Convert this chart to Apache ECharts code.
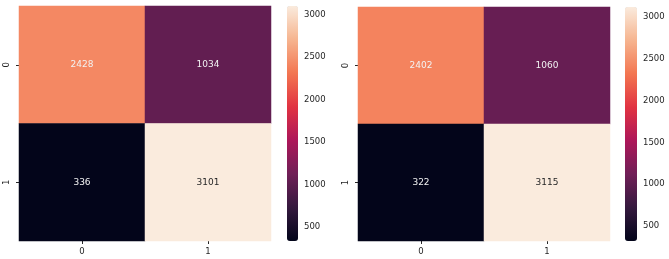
<!DOCTYPE html>
<html>
<head>
<meta charset="utf-8">
<script src="https://cdn.jsdelivr.net/npm/echarts@6/dist/echarts.min.js"></script>
<style>
    html, body { margin: 0; padding: 0; background: #fff; }
    #chart { width: 669px; height: 259px; }
</style>
</head>
<body>
<div id="chart"></div>
<script>
const xLabels = ['0', '1'];
const yLabels = ['0', '1'];

// confusion matrices, rows = y label, cols = x label
const leftMatrix = [
    [2428, 1034],
    [336, 3101],
];
const rightMatrix = [
    [2402, 1060],
    [322, 3115],
];

const colorbarTicks = [500, 1000, 1500, 2000, 2500, 3000];

// seaborn "rocket"
const rocket = ['#03051a', '#35193e', '#701f57', '#ad1759', '#e13342', '#f37651', '#f6b48f', '#faebdd'];

const FONT = 'DejaVu Sans';
const TEXT = '#262626';

function toCells(matrix) {
    const flat = matrix.flat();
    const min = Math.min(...flat);
    const max = Math.max(...flat);
    const cells = [];
    matrix.forEach((row, yi) => {
        row.forEach((v, xi) => {
            const frac = (v - min) / (max - min);
            cells.push({
                value: [xi, yi, v],
                label: {color: frac > 0.9 ? TEXT : '#f2f2f2'}
            });
        });
    });
    return {cells, min, max};
}

const left = toCells(leftMatrix);
const right = toCells(rightMatrix);

const panels = [
    {data: left, grid: {left: 19, top: 6, width: 252, height: 235}, bar: {left: 287, top: 6, width: 11, height: 235}},
    {data: right, grid: {left: 358, top: 7, width: 252, height: 234}, bar: {left: 625, top: 7, width: 12, height: 234}},
];

const grids = [];
const xAxes = [];
const yAxes = [];
const series = [];
const visualMaps = [];

panels.forEach((p) => {
    grids.push(p.grid);
    xAxes.push({
        type: 'category',
        gridIndex: grids.length - 1,
        data: xLabels,
        axisLine: {show: false},
        axisTick: {show: true, alignWithLabel: true, length: 3, lineStyle: {color: TEXT}},
        axisLabel: {fontFamily: FONT, fontSize: 8.5, color: TEXT, margin: 6},
        splitLine: {show: false}
    });
    yAxes.push({
        type: 'category',
        gridIndex: grids.length - 1,
        data: yLabels,
        inverse: true,
        axisLine: {show: false},
        axisTick: {show: true, alignWithLabel: true, length: 3, lineStyle: {color: TEXT}},
        axisLabel: {fontFamily: FONT, fontSize: 8.5, color: TEXT, rotate: 90, margin: 8},
        splitLine: {show: false}
    });
    const heatIndex = series.length;
    series.push({
        type: 'heatmap',
        xAxisIndex: xAxes.length - 1,
        yAxisIndex: yAxes.length - 1,
        data: p.data.cells,
        label: {show: true, fontFamily: FONT, fontSize: 9},
        emphasis: {disabled: true}
    });
    visualMaps.push({
        type: 'continuous',
        seriesIndex: heatIndex,
        min: p.data.min,
        max: p.data.max,
        calculable: false,
        show: true,
        orient: 'vertical',
        left: p.bar.left,
        top: p.bar.top,
        padding: 0,
        itemWidth: p.bar.width,
        itemHeight: p.bar.height,
        text: null,
        inRange: {color: rocket}
    });

    // axis beside the colorbar, only for its ticks
    grids.push({left: p.bar.left, top: p.bar.top, width: p.bar.width, height: p.bar.height});
    xAxes.push({type: 'value', gridIndex: grids.length - 1, show: false});
    yAxes.push({
        type: 'value',
        gridIndex: grids.length - 1,
        position: 'right',
        min: p.data.min,
        max: p.data.max,
        axisLine: {show: false},
        axisTick: {show: true, length: 3, customValues: colorbarTicks, lineStyle: {color: TEXT}},
        axisLabel: {
            fontFamily: FONT, fontSize: 8.5, color: TEXT, margin: 6,
            customValues: colorbarTicks,
            formatter: (v) => String(v)
        },
        splitLine: {show: false}
    });
});

const chart = echarts.init(document.getElementById('chart'));
chart.setOption({
    animation: false,
    grid: grids,
    xAxis: xAxes,
    yAxis: yAxes,
    visualMap: visualMaps,
    series: series
});
</script>
</body>
</html>
